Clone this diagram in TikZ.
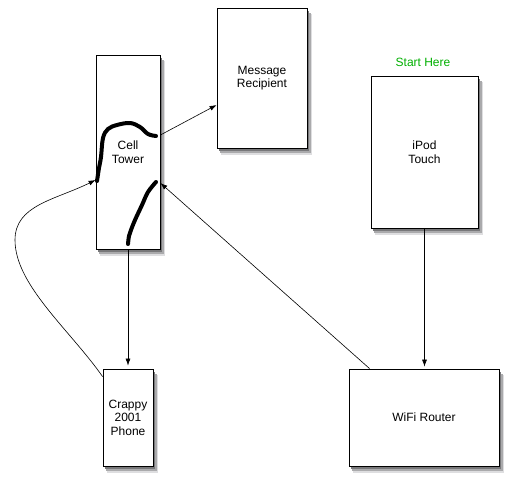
\documentclass[tikz,border=0pt]{standalone}
\usepackage{fontspec}
\setmainfont{Liberation Sans}
\usetikzlibrary{calc,arrows.meta,backgrounds}
\definecolor{startgreen}{RGB}{0,175,0}
\definecolor{shadowa}{RGB}{222,222,224}
\definecolor{shadowb}{RGB}{170,170,172}
\definecolor{shadowc}{RGB}{120,120,122}

\begin{document}
\begin{tikzpicture}[x=1pt, y=-1pt, thick,
    main/.style = {draw, fill=white, rectangle, align=center, inner sep=0pt, font=\fontsize{12}{13.5}\selectfont},
    arr/.style = {-{Latex[length=7pt, width=5pt]}, semithick},
    scribble/.style = {line width=4pt, line cap=round, line join=round}]
                \useasboundingbox (0,0) rectangle (519,488);

                \node[main, minimum width=64pt, minimum height=194pt] (tower) at (128,152) {Cell\\Tower};
                \node[main, minimum width=90pt, minimum height=140pt] (recip) at (262,78) {Message\\Recipient};
                \node[main, minimum width=107pt, minimum height=152pt] (ipod) at (424.5,152) {iPod\\Touch};
                \node[main, minimum width=150pt, minimum height=97pt] (router) at (424,417.5) {WiFi Router};
                \node[main, minimum width=50pt, minimum height=97pt] (phone) at (128,417.5) {Crappy\\2001\\Phone};
                \node[text=startgreen, font=\fontsize{12}{13.5}\selectfont] (start) at (423,62) {Start Here};

                % soft shadows behind the boxes
                \begin{scope}[on background layer]
                    \foreach \n in {tower,recip,ipod,router,phone} {
                        \fill[shadowa] ($(\n.north west)+(4.5,6.5)$) rectangle ($(\n.south east)+(4.5,6.5)$);
                        \fill[shadowb] ($(\n.north west)+(3.5,5)$) rectangle ($(\n.south east)+(3.5,5)$);
                        \fill[shadowc] ($(\n.north west)+(2,3)$) rectangle ($(\n.south east)+(2,3)$);
                    }
                \end{scope}

                % hand drawn marks on the tower
                \draw[scribble] plot[smooth, tension=0.6] coordinates {(97,181) (99,168) (101,157) (103,138) (108,129) (117,125) (130,123) (140,127) (148,134) (156,136)};
                \draw[scribble] plot[smooth, tension=0.6] coordinates {(128,244) (129,236) (131,230) (135,220) (142,205) (148,192) (156,182)};

                \draw[arr] ([yshift=17pt]tower.east) -- ([yshift=-27pt]recip.west);
                \draw[arr, shorten >=3pt] (tower.south) -- (phone.north);
                \draw[arr, shorten >=2pt] (ipod.south) -- (ipod.south |- router.north);
                \draw[arr] ([xshift=21pt]router.north west) -- ([yshift=-31pt]tower.east);

                \coordinate (bend) at (15,240);
                \draw[arr] ([yshift=-8pt]phone.north west) .. controls (70,330) and (15,285) .. (bend)
                    .. controls (15,205) and (55,200) .. ([yshift=-28pt]tower.west);
            \end{tikzpicture}
\end{document}
